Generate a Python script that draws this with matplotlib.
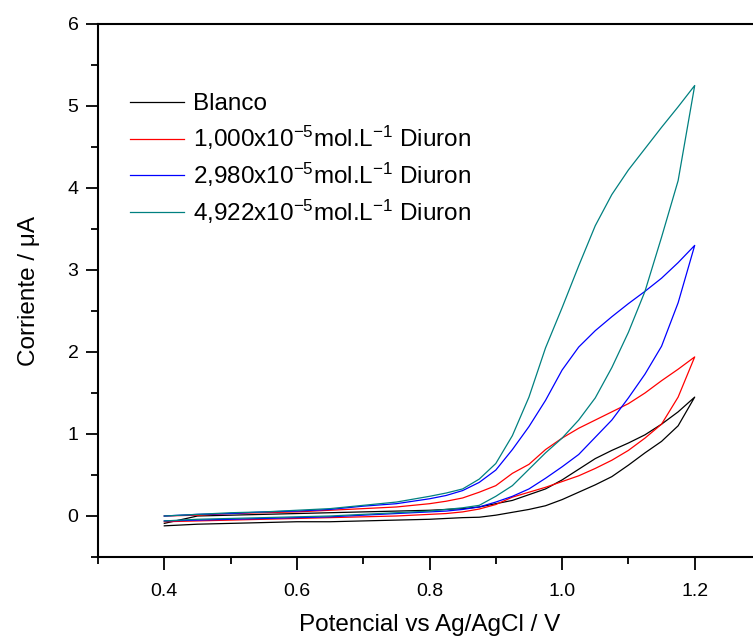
import numpy as np
import matplotlib
matplotlib.use('Agg')
import matplotlib.pyplot as plt
from matplotlib.ticker import MultipleLocator

plt.rcParams['font.family'] = ['Liberation Sans', 'DejaVu Sans']
plt.rcParams['mathtext.fontset'] = 'custom'
plt.rcParams['mathtext.rm'] = 'Liberation Sans'
plt.rcParams['mathtext.it'] = 'Liberation Sans:italic'

# potential grid (V), same for both branches of each voltammogram
E = [0.40, 0.45, 0.50, 0.55, 0.60, 0.65, 0.70, 0.75, 0.80, 0.825, 0.85, 0.875,
     0.90, 0.925, 0.95, 0.975, 1.00, 1.025, 1.05, 1.075, 1.10, 1.125, 1.15, 1.175, 1.20]

labels = ['Blanco',
          '1,000x10$^{-5}$mol.L$^{-1}$ Diuron',
          '2,980x10$^{-5}$mol.L$^{-1}$ Diuron',
          '4,922x10$^{-5}$mol.L$^{-1}$ Diuron']
colors = ['black', 'red', 'blue', '#008080']

# current (uA), lower branch
blanco_low = [-0.12, -0.10, -0.09, -0.08, -0.07, -0.07, -0.06, -0.05, -0.04, -0.03, -0.02, -0.015,
              0.01, 0.045, 0.08, 0.125, 0.20, 0.29, 0.38, 0.48, 0.62, 0.77, 0.91, 1.10, 1.45]
d1_low = [-0.07, -0.06, -0.05, -0.04, -0.03, -0.02, -0.01, 0.00, 0.02, 0.03, 0.05, 0.085,
          0.14, 0.23, 0.29, 0.35, 0.42, 0.49, 0.58, 0.68, 0.80, 0.95, 1.12, 1.45, 1.94]
d2_low = [-0.06, -0.05, -0.04, -0.03, -0.02, -0.01, 0.01, 0.03, 0.05, 0.06, 0.08, 0.11,
          0.17, 0.24, 0.33, 0.46, 0.60, 0.75, 0.96, 1.17, 1.44, 1.73, 2.07, 2.60, 3.30]
d3_low = [-0.06, -0.04, -0.03, -0.02, -0.01, 0.00, 0.02, 0.04, 0.06, 0.08, 0.10, 0.13,
          0.24, 0.37, 0.57, 0.77, 0.95, 1.17, 1.44, 1.81, 2.24, 2.74, 3.40, 4.09, 5.25]

# current (uA), upper branch
blanco_up = [-0.09, 0.00, 0.01, 0.02, 0.03, 0.04, 0.05, 0.06, 0.07, 0.08, 0.09, 0.11,
             0.15, 0.19, 0.26, 0.33, 0.44, 0.57, 0.70, 0.80, 0.89, 0.99, 1.12, 1.27, 1.45]
d1_up = [0.00, 0.01, 0.03, 0.04, 0.05, 0.07, 0.09, 0.11, 0.15, 0.18, 0.22, 0.29,
         0.37, 0.52, 0.63, 0.81, 0.95, 1.07, 1.17, 1.27, 1.37, 1.50, 1.65, 1.79, 1.94]
d2_up = [0.00, 0.02, 0.03, 0.05, 0.06, 0.08, 0.12, 0.15, 0.21, 0.25, 0.31, 0.41,
         0.56, 0.81, 1.09, 1.41, 1.78, 2.06, 2.26, 2.43, 2.59, 2.74, 2.90, 3.09, 3.30]
d3_up = [0.00, 0.02, 0.04, 0.05, 0.07, 0.09, 0.13, 0.17, 0.24, 0.28, 0.33, 0.45,
         0.64, 0.98, 1.45, 2.05, 2.54, 3.05, 3.54, 3.92, 4.22, 4.48, 4.74, 4.99, 5.25]

lows = [blanco_low, d1_low, d2_low, d3_low]
ups = [blanco_up, d1_up, d2_up, d3_up]

fig = plt.figure(figsize=(7.53, 6.37), dpi=100)
ax = fig.add_axes([98/753, 80/637, (761-98)/753, (557-24)/637])

for lo, up, c, lab in zip(lows, ups, colors, labels):
    x = E + E[::-1]
    y = lo + up[::-1]
    ax.plot(x, y, color=c, lw=0.9, label=lab)

ax.set_xlim(0.3, 1.3)
ax.set_ylim(-0.5, 6)
ax.xaxis.set_major_locator(MultipleLocator(0.2))
ax.xaxis.set_minor_locator(MultipleLocator(0.1))
ax.yaxis.set_major_locator(MultipleLocator(1))
ax.yaxis.set_minor_locator(MultipleLocator(0.5))
ax.set_xticks([0.4, 0.6, 0.8, 1.0, 1.2])
ax.set_xticklabels(['0.4', '0.6', '0.8', '1.0', '1.2'])
ax.tick_params(which='major', direction='out', length=9, width=1.3, labelsize=14)
ax.tick_params(which='minor', direction='out', length=5, width=1.3)
ax.tick_params(axis='x', pad=10)
ax.tick_params(axis='y', pad=5)
for s in ax.spines.values():
    s.set_linewidth(1.5)

ax.set_xlabel('Potencial vs Ag/AgCl / V', fontsize=17.5, labelpad=10)
ax.set_ylabel('Corriente / μA', fontsize=17.5, labelpad=20)

ax.legend(loc='upper left', bbox_to_anchor=(0.033, 0.888), frameon=False,
          fontsize=17.5, handlelength=2.25, handletextpad=0.35, labelspacing=0.35,
          borderaxespad=0)

fig.savefig('out.png', dpi=100)
